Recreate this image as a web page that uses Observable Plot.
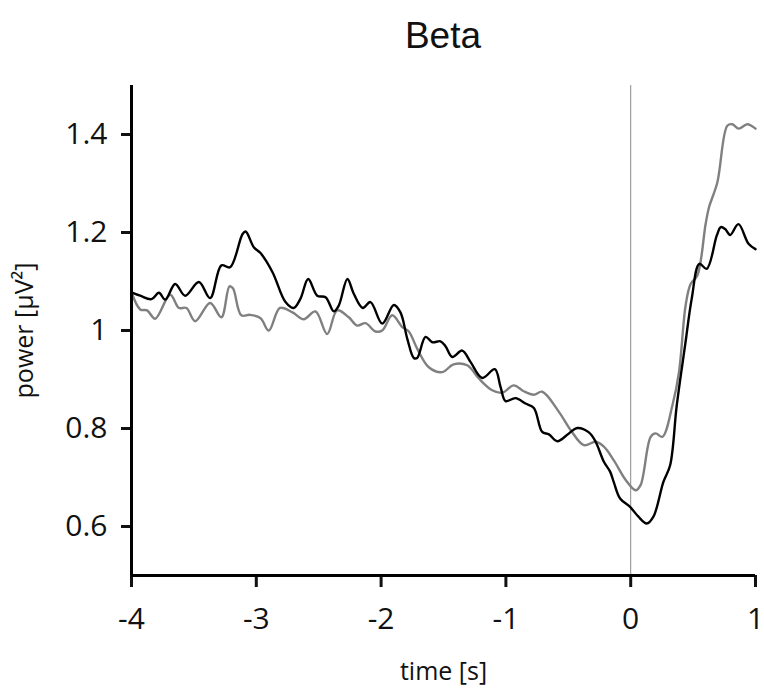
<!DOCTYPE html>
<html>
<head>
<meta charset="utf-8">
<script src="https://cdn.jsdelivr.net/npm/d3@7"></script>
<script src="https://cdn.jsdelivr.net/npm/@observablehq/plot@0.6"></script>
<style>
  body { margin: 0; background: #fff; }
  #title {
    box-sizing: border-box; width: 764px; height: 70px;
    padding: 17px 9px 0 131px; text-align: center;
    font-family: "Liberation Sans", Arial, sans-serif; font-size: 37px; line-height: 37px; color: #111;
  }
  #chart svg { display: block; }
</style>
</head>
<body>
<div id="title">Beta</div>
<div id="chart"></div>
<script>
const titleText = "Beta";
const xLabel = "time [s]";
const yLabel = "power [µV²]";
const xTicks = [-4, -3, -2, -1, 0, 1];
const yTicks = [0.6, 0.8, 1.0, 1.2, 1.4];
const markerTime = [0];

const blackTime = [-4.0, -3.93, -3.84, -3.78, -3.73, -3.65, -3.57, -3.46, -3.37, -3.28, -3.21, -3.11, -3.085, -3.02, -2.966, -2.87, -2.766, -2.70, -2.646, -2.584, -2.512, -2.445, -2.379, -2.339, -2.27, -2.219, -2.147, -2.085, -1.991, -1.898, -1.845, -1.79, -1.738, -1.711, -1.644, -1.59, -1.524, -1.484, -1.43, -1.35, -1.284, -1.19, -1.089, -1.043, -1.003, -0.923, -0.843, -0.776, -0.709, -0.655, -0.588, -0.495, -0.428, -0.335, -0.281, -0.215, -0.165, -0.135, -0.085, -0.005, 0.062, 0.129, 0.182, 0.262, 0.316, 0.369, 0.436, 0.489, 0.55, 0.609, 0.69, 0.722, 0.757, 0.797, 0.863, 0.944, 1.0];
const blackPower = [1.078, 1.071, 1.064, 1.077, 1.063, 1.095, 1.071, 1.099, 1.066, 1.133, 1.129, 1.197, 1.202, 1.170, 1.158, 1.119, 1.058, 1.046, 1.065, 1.105, 1.071, 1.068, 1.039, 1.051, 1.105, 1.075, 1.046, 1.058, 1.014, 1.052, 1.037, 0.983, 0.944, 0.944, 0.987, 0.976, 0.978, 0.968, 0.946, 0.959, 0.936, 0.903, 0.921, 0.885, 0.856, 0.862, 0.851, 0.842, 0.793, 0.788, 0.774, 0.790, 0.801, 0.792, 0.773, 0.732, 0.712, 0.690, 0.657, 0.640, 0.620, 0.606, 0.620, 0.691, 0.725, 0.847, 0.970, 1.065, 1.136, 1.126, 1.194, 1.211, 1.207, 1.195, 1.217, 1.177, 1.166];

const grayTime = [-4.0, -3.93, -3.875, -3.81, -3.69, -3.62, -3.56, -3.49, -3.37, -3.28, -3.215, -3.187, -3.12, -3.05, -2.966, -2.90, -2.81, -2.71, -2.62, -2.526, -2.432, -2.352, -2.259, -2.192, -2.125, -2.045, -1.991, -1.911, -1.83, -1.778, -1.711, -1.618, -1.51, -1.42, -1.31, -1.217, -1.11, -1.03, -0.937, -0.857, -0.776, -0.709, -0.575, -0.482, -0.375, -0.281, -0.215, -0.135, -0.04, 0.04, 0.08, 0.16, 0.2, 0.254, 0.334, 0.387, 0.44, 0.48, 0.534, 0.6, 0.627, 0.694, 0.774, 0.814, 0.866, 0.934, 1.0];
const grayPower = [1.078, 1.043, 1.041, 1.024, 1.073, 1.046, 1.046, 1.019, 1.056, 1.027, 1.090, 1.086, 1.031, 1.032, 1.025, 1.000, 1.046, 1.037, 1.023, 1.039, 0.993, 1.041, 1.027, 1.010, 1.015, 0.998, 1.000, 1.031, 1.007, 0.998, 0.963, 0.925, 0.915, 0.931, 0.929, 0.902, 0.878, 0.873, 0.888, 0.876, 0.869, 0.875, 0.834, 0.797, 0.766, 0.773, 0.763, 0.735, 0.695, 0.674, 0.685, 0.783, 0.790, 0.783, 0.847, 0.915, 1.051, 1.095, 1.112, 1.217, 1.251, 1.302, 1.418, 1.421, 1.412, 1.421, 1.412];

const black = blackTime.map((t, i) => ({t, v: blackPower[i]}));
const gray = grayTime.map((t, i) => ({t, v: grayPower[i]}));

document.getElementById("title").textContent = titleText;

const fontFamily = "'Open Sans', 'DejaVu Sans', sans-serif";
const chart = Plot.plot({
  width: 764,
  height: 626,
  marginTop: 15,
  marginBottom: 121,
  marginLeft: 131,
  marginRight: 9,
  style: {fontFamily, fontSize: "25px", color: "#111", background: "#fff", overflow: "visible"},
  x: {domain: [-4, 1]},
  y: {domain: [0.5, 1.5]},
  marks: [
    Plot.ruleX(markerTime, {stroke: "#8a8a8a", strokeWidth: 1}),
    Plot.line(gray, {x: "t", y: "v", stroke: "#808080", strokeWidth: 2.4, curve: "catmull-rom"}),
    Plot.line(black, {x: "t", y: "v", stroke: "#000", strokeWidth: 2.4, curve: "catmull-rom"}),
    Plot.axisX({ticks: xTicks, tickSize: 12, tickPadding: 20, strokeWidth: 3, fontSize: 30, tickFormat: d => String(d), label: null}),
    Plot.axisY({ticks: yTicks, tickSize: 10, tickPadding: 14, strokeWidth: 3, fontSize: 30, tickFormat: d => String(+d.toFixed(1)), label: null}),
    Plot.ruleY([0.5], {strokeWidth: 3, stroke: "#000"}),
    Plot.ruleX([-4], {strokeWidth: 3, stroke: "#000"}),
    Plot.text([xLabel], {frameAnchor: "bottom", dy: 104, fontSize: 25, fill: "#111"}),
    Plot.text([yLabel], {frameAnchor: "left", textAnchor: "middle", dx: -107, rotate: -90, fontSize: 25, fill: "#111"})
  ]
});
document.getElementById("chart").appendChild(chart);
</script>
</body>
</html>
